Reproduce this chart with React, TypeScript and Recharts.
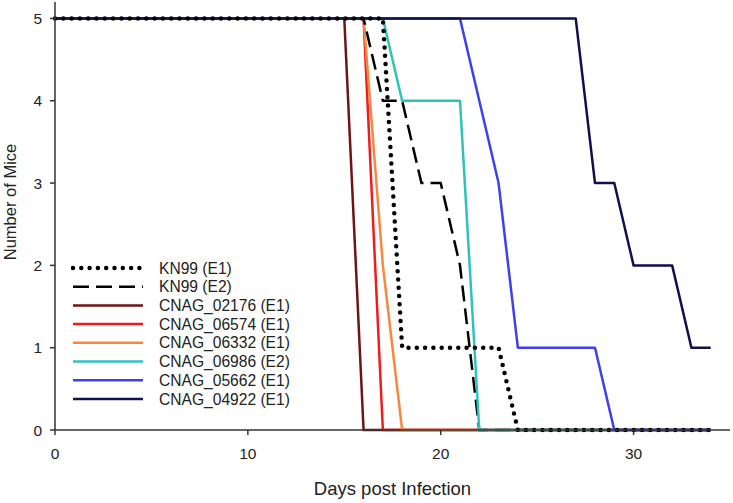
import React from 'react'
import { Label, Legend, Line, LineChart, XAxis, YAxis } from 'recharts'

// survival data, one pair of arrays per strain (days / mice alive)
const kn99E1Days = [0, 17, 18, 23, 24, 34]
const kn99E1Mice = [5, 5, 1, 1, 0, 0]
const kn99E2Days = [0, 16, 17, 18, 19, 20, 21, 22, 34]
const kn99E2Mice = [5, 5, 4, 4, 3, 3, 2, 0, 0]
const cnag02176Days = [0, 15, 16, 34]
const cnag02176Mice = [5, 5, 0, 0]
const cnag06574Days = [0, 16, 17, 34]
const cnag06574Mice = [5, 5, 0, 0]
const cnag06332Days = [0, 16, 17, 18, 34]
const cnag06332Mice = [5, 5, 2, 0, 0]
const cnag06986Days = [0, 17, 18, 21, 22, 34]
const cnag06986Mice = [5, 5, 4, 4, 0, 0]
const cnag05662Days = [0, 21, 23, 24, 28, 29, 34]
const cnag05662Mice = [5, 5, 3, 1, 1, 0, 0]
const cnag04922Days = [0, 27, 28, 29, 30, 32, 33, 34]
const cnag04922Mice = [5, 5, 3, 3, 2, 2, 1, 1]

const xTicks = [0, 10, 20, 30]
const yTicks = [0, 1, 2, 3, 4, 5]

type Series = {
  name: string
  color: string
  width: number
  dash?: string
  cap?: 'round' | 'butt'
  days: number[]
  mice: number[]
}

// legend order
const series: Series[] = [
  { name: 'KN99 (E1)', color: '#000000', width: 4.5, dash: '0 8.3', cap: 'round', days: kn99E1Days, mice: kn99E1Mice },
  { name: 'KN99 (E2)', color: '#000000', width: 2.5, dash: '16 7', days: kn99E2Days, mice: kn99E2Mice },
  { name: 'CNAG_02176 (E1)', color: '#6e1414', width: 2.5, days: cnag02176Days, mice: cnag02176Mice },
  { name: 'CNAG_06574 (E1)', color: '#f01c1c', width: 2.5, days: cnag06574Days, mice: cnag06574Mice },
  { name: 'CNAG_06332 (E1)', color: '#f8873f', width: 2.5, days: cnag06332Days, mice: cnag06332Mice },
  { name: 'CNAG_06986 (E2)', color: '#2fc2bd', width: 2.5, days: cnag06986Days, mice: cnag06986Mice },
  { name: 'CNAG_05662 (E1)', color: '#3f3ff0', width: 2.5, days: cnag05662Days, mice: cnag05662Mice },
  { name: 'CNAG_04922 (E1)', color: '#10104e', width: 2.5, days: cnag04922Days, mice: cnag04922Mice },
]

// later deaths sit on top, dotted KN99 last
const drawOrder = [2, 3, 4, 1, 5, 6, 7, 0]

const toPoints = (s: Series) => s.days.map((day, i) => ({ day, mice: s.mice[i] }))

const LegendBox = () => (
  <svg width={240} height={160} style={{ display: 'block' }}>
    {series.map((s, i) => {
      const y = 9 + i * 18.7
      return (
        <g key={s.name}>
          <line
            x1={2}
            x2={72}
            y1={y}
            y2={y}
            stroke={s.color}
            strokeWidth={s.width}
            strokeDasharray={s.dash}
            strokeLinecap={s.cap ?? 'butt'}
          />
          <text x={88} y={y} dy="0.36em" fontSize={15.6} fill="#222">
            {s.name}
          </text>
        </g>
      )
    })}
  </svg>
)

const tickStyle = { fontSize: 15.5, fill: '#222' }

export default function App() {
  return (
    <div
      style={{
        position: 'fixed',
        left: 0,
        top: 0,
        width: 733,
        height: 503,
        background: '#fff',
        fontFamily: '"Liberation Sans", Arial, sans-serif',
      }}
    >
      <LineChart width={733} height={503} margin={{ top: 2, right: 3, bottom: 0, left: 0 }}>
        <XAxis
          dataKey="day"
          type="number"
          domain={[0, 35]}
          ticks={xTicks}
          height={73}
          tickSize={5}
          tickMargin={13}
          tick={tickStyle}
          stroke="#333"
          strokeWidth={1.5}
          allowDuplicatedCategory={false}
        >
          <Label
            content={({ viewBox }: any) => (
              <text
                x={viewBox.x + viewBox.width / 2}
                y={viewBox.y + viewBox.height - 8}
                textAnchor="middle"
                fontSize={18.5}
                fill="#222"
              >
                Days post Infection
              </text>
            )}
          />
        </XAxis>
        <XAxis
          xAxisId="top"
          orientation="top"
          type="number"
          domain={[0, 35]}
          height={0}
          tick={false}
          tickLine={false}
          stroke="#555"
        />
        <YAxis
          type="number"
          domain={[0, 5.2]}
          ticks={yTicks}
          width={55}
          tickSize={5}
          tickMargin={8}
          tick={tickStyle}
          stroke="#333"
          strokeWidth={1.5}
        >
          <Label
            content={({ viewBox }: any) => (
              <text
                transform={`translate(${viewBox.x + 10},${viewBox.y + viewBox.height / 2 - 14}) rotate(-90)`}
                textAnchor="middle"
                dominantBaseline="central"
                fontSize={16.5}
                fill="#222"
              >
                Number of Mice
              </text>
            )}
          />
        </YAxis>
        <YAxis
          yAxisId="right"
          orientation="right"
          width={0}
          tick={false}
          tickLine={false}
          stroke="#555"
        />
        <Legend
          layout="vertical"
          align="center"
          verticalAlign="middle"
          content={<LegendBox />}
          wrapperStyle={{ position: 'absolute', left: 71, top: 259, width: 240 }}
        />
        {drawOrder.map((idx) => {
          const s = series[idx]
          return (
            <Line
              key={s.name}
              data={toPoints(s)}
              dataKey="mice"
              name={s.name}
              type="linear"
              stroke={s.color}
              strokeWidth={s.width}
              strokeDasharray={s.dash}
              strokeLinecap={s.cap ?? 'butt'}
              strokeLinejoin="round"
              dot={false}
              activeDot={false}
              isAnimationActive={false}
            />
          )
        })}
      </LineChart>
    </div>
  )
}
